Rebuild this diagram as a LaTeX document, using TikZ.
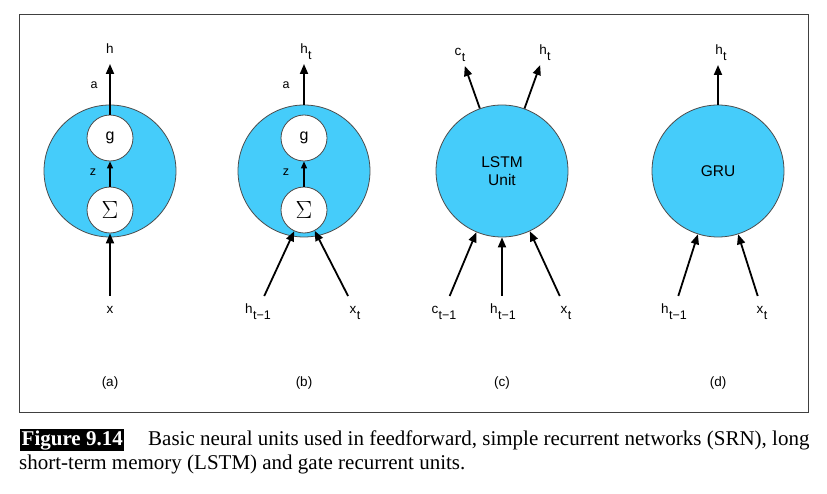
\documentclass[tikz,border=0pt]{standalone}
\usepackage[no-math]{fontspec}
\setmainfont{Liberation Serif}
\newfontfamily\unitfont{Liberation Sans}
\usetikzlibrary{arrows.meta}
\definecolor{unitblue}{RGB}{69,204,250}
\newcommand{\lsub}[2]{#1\kern0.3pt\raisebox{-6pt}{\fontsize{12.5}{12.5}\selectfont #2}}

\begin{document}
\begin{tikzpicture}[x=1pt, y=-1pt,
    every node/.style={font=\unitfont\fontsize{13.5}{15}\selectfont},
    unitcirc/.style={circle, draw=black!70, fill=unitblue, line width=0.8pt, minimum size=132pt, inner sep=0pt},
    gatecirc/.style={circle, draw=black!70, fill=white, line width=0.8pt, minimum size=46pt, inner sep=0pt},
    io/.style={anchor=base, inner sep=0pt, text height=12pt, text depth=5pt, outer sep=5pt},
    flow/.style={-{Triangle[length=10pt, width=8pt]}, line width=1.8pt},
    inflow/.style={-{Triangle[length=7pt, width=6pt]}, line width=1.1pt},
    small/.style={font=\unitfont\fontsize{12.5}{12.5}\selectfont}]
    \useasboundingbox (0,0) rectangle (827,494);
    \draw[black!75, line width=0.9pt] (19.5,14.5) rectangle (808,412);

    % (a)
    \node[unitcirc] (Ua) at (110,171) {};
    \node[gatecirc, font=\unitfont\fontsize{16}{16}\selectfont] (Ga) at (110,138) {g};
    \node[gatecirc] (Sa) at (110,210) {\fontsize{25}{25}\selectfont$\Sigma$};
    \node[io] (ha) at (110,54) {h};
    \node[io] (xa) at (110,313) {x};
    \node[small] (aa) at (94,85) {a};
    \node[small] (za) at (93,172) {z};
    \node (La) at (110,383) {(a)};
    \draw[flow] (Ga) -- (ha);
    \draw[inflow] (Sa) -- (Ga);
    \draw[flow] (xa) -- (Sa);

    % (b)
    \node[unitcirc] (Ub) at (304,171) {};
    \node[gatecirc, font=\unitfont\fontsize{16}{16}\selectfont] (Gb) at (304,138) {g};
    \node[gatecirc] (Sb) at (304,210) {\fontsize{25}{25}\selectfont$\Sigma$};
    \node[io] (hb) at (306,54) {\lsub{h}{t}};
    \node[io] (hpb) at (258,313) {\lsub{h}{t−1}};
    \node[io] (xb) at (355,313) {\lsub{x}{t}};
    \node[small] (ab) at (286,85) {a};
    \node[small] (zb) at (286,172) {z};
    \node (Lb) at (304,383) {(b)};
    \draw[flow] (Ub.north) -- (Ub.north |- hb.south);
    \draw[inflow] (Sb) -- (Gb);
    \draw[flow] (hpb) -- (Sb);
    \draw[flow] (xb) -- (Sb);

    % (c)
    \node[unitcirc, align=center, font=\unitfont\fontsize{15.5}{17.5}\selectfont] (Uc) at (502,171) {LSTM\\Unit};
    \node[io] (cc) at (460,56) {\lsub{c}{t}};
    \node[io] (hc) at (545,55) {\lsub{h}{t}};
    \node[io] (cpc) at (444,313) {\lsub{c}{t−1}};
    \node[io] (hpc) at (503,313) {\lsub{h}{t−1}};
    \node[io] (xc) at (566,313) {\lsub{x}{t}};
    \node (Lc) at (502,383) {(c)};
    \draw[flow] (Uc) -- (cc);
    \draw[flow] (Uc) -- (hc);
    \draw[flow] (cpc) -- (Uc);
    \draw[flow] (hpc.north -| Uc.south) -- (Uc.south);
    \draw[flow] (xc) -- (Uc);

    % (d)
    \node[unitcirc, font=\unitfont\fontsize{15.5}{15.5}\selectfont] (Ud) at (718,171) {GRU};
    \node[io] (hd) at (721,55) {\lsub{h}{t}};
    \node[io] (hpd) at (674,313) {\lsub{h}{t−1}};
    \node[io] (xd) at (762,313) {\lsub{x}{t}};
    \node (Ld) at (718,383) {(d)};
    \draw[flow] (Ud.north) -- (Ud.north |- hd.south);
    \draw[flow] (hpd) -- (Ud);
    \draw[flow] (xd) -- (Ud);

    % caption
    \node[fill=black, text=white, font=\rmfamily\bfseries\fontsize{21}{25}\selectfont, inner xsep=1.5pt, inner ysep=1pt, anchor=base west] (fignum) at (20,445) {Figure 9.14};
    \node[anchor=base west, inner sep=0pt, font=\rmfamily\fontsize{21}{25}\selectfont] (capa) at (148,445) {Basic neural units used in feedforward, simple recurrent networks (SRN), long};
    \node[anchor=base west, inner sep=0pt, font=\rmfamily\fontsize{21}{25}\selectfont] (capb) at (19,469) {short-term memory (LSTM) and gate recurrent units.};
\end{tikzpicture}
\end{document}
